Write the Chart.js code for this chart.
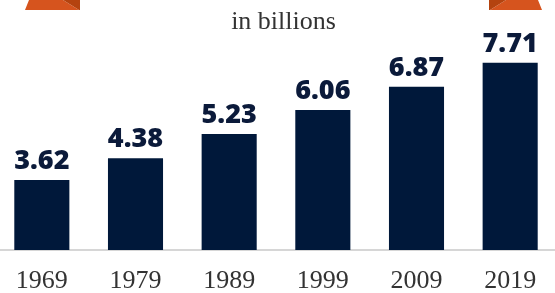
<!DOCTYPE html>
<html>
<head>
<meta charset="utf-8">
<script src="https://cdn.jsdelivr.net/npm/chart.js@4.4.1/dist/chart.umd.min.js"></script>
<style>
    html, body { margin: 0; padding: 0; background: #ffffff; overflow: hidden; }
    body { width: 555px; height: 293px; position: relative; }
    #wrap { position: absolute; left: -5px; top: 0; width: 562px; height: 293px; }
    #subtitle {
        position: absolute; left: 6px; top: 8px; width: 555px;
        text-align: center; font-family: "Liberation Serif", serif;
        font-size: 26px; line-height: 26px; color: #333333;
    }
    #ribbons { position: absolute; left: 0; top: 0; }
</style>
</head>
<body>

<div id="wrap"><canvas id="popChart" width="562" height="293"></canvas></div>

<svg id="ribbons" width="555" height="12">
    <polygon points="25,10 29,0 63,0 79,10" fill="#d6541e"/>
    <polygon points="63,0 80,0 80,10 79,10" fill="#b4430f"/>
    <polygon points="506,0 538,0 542,10 490,10" fill="#d6541e"/>
    <polygon points="489,0 506,0 490,10 489,10" fill="#b4430f"/>
</svg>

<div id="subtitle">in billions</div>

<script>

const years = ["1969", "1979", "1989", "1999", "2009", "2019"];
const population = [3.62, 4.38, 5.23, 6.06, 6.87, 7.71];
const valueLabels = ["3.62", "4.38", "5.23", "6.06", "6.87", "7.71"];

document.addEventListener("DOMContentLoaded", function () {

    loadChart();

});

function loadChart() {

    const canvas = document.getElementById("popChart");

    if (!canvas) return;

    const ctx = canvas.getContext("2d");

    // numbers over each bar
    const barLabels = {
        id: "barLabels",
        afterDatasetsDraw(chart) {
            const c = chart.ctx;
            const meta = chart.getDatasetMeta(0);
            c.save();
            c.font = "800 27px 'Open Sans'";
            c.fillStyle = "#0b1a3a";
            c.textAlign = "center";
            c.textBaseline = "alphabetic";
            meta.data.forEach((bar, i) => {
                c.fillText(valueLabels[i], bar.x, bar.y - 11);
            });
            c.restore();
        }
    };

    new Chart(ctx, {

        type: "bar",

        data: {
            labels: years,
            datasets: [{
                data: population,
                backgroundColor: "#00183a",
                borderWidth: 0,
                barPercentage: 0.588,
                categoryPercentage: 1
            }]
        },

        options: {
            responsive: false,
            animation: false,
            devicePixelRatio: 1,
            layout: { padding: 0 },
            plugins: {
                legend: { display: false },
                tooltip: { enabled: false }
            },
            scales: {
                x: {
                    grid: { display: false, drawTicks: false },
                    border: { display: true, color: "#d6d6d6", width: 2 },
                    ticks: {
                        padding: 16,
                        color: "#333333",
                        font: { family: "Liberation Serif", size: 26 }
                    },
                    afterFit: function (scale) { scale.height = 43; }
                },
                y: {
                    display: false,
                    min: 1.18,
                    max: 9.9
                }
            }
        },

        plugins: [barLabels]

    });

}
</script>
</body>
</html>
